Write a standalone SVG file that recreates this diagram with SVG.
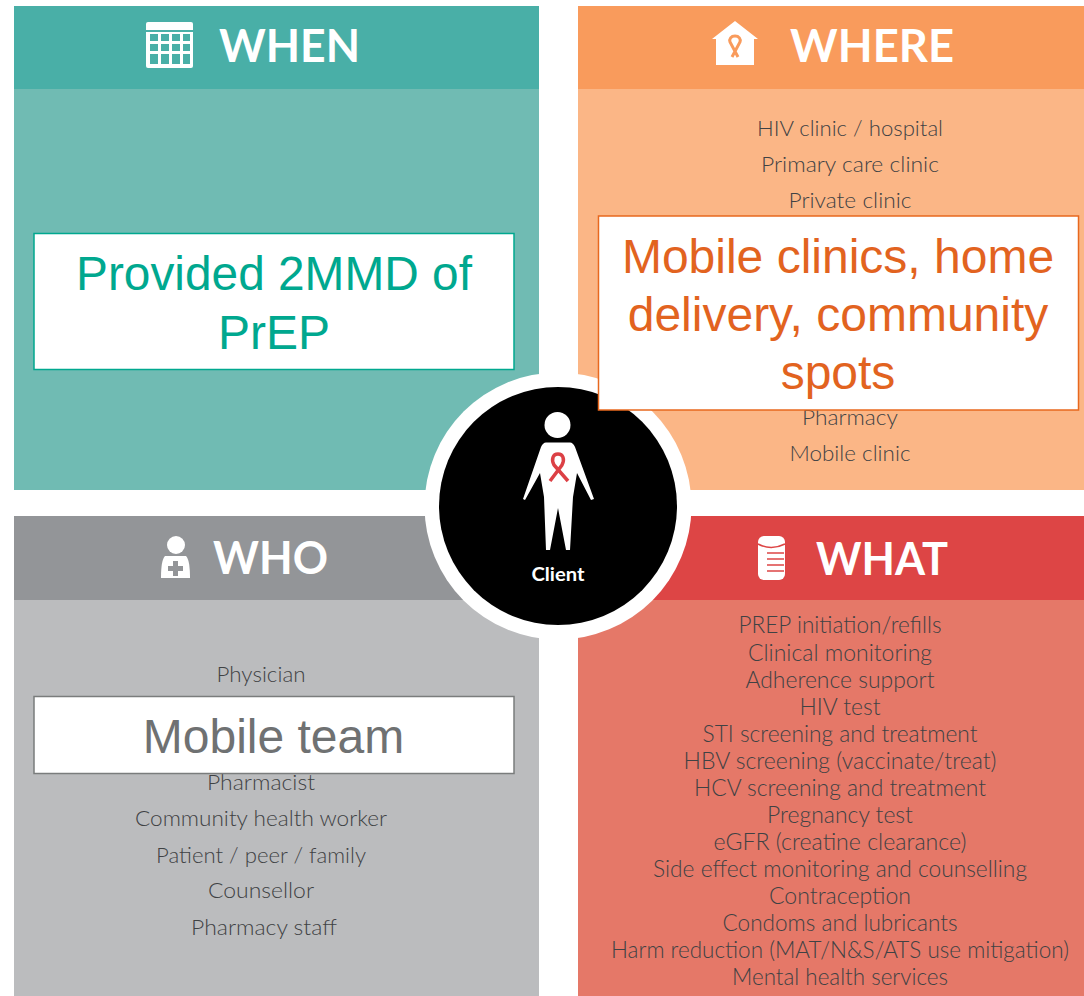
<svg xmlns="http://www.w3.org/2000/svg" width="1084" height="996" viewBox="0 0 1084 996">
<style>
.h{font-family:"Lato","Liberation Sans",sans-serif;font-weight:700;font-size:46px;fill:#fff}
.b{font-family:"Lato","Liberation Sans",sans-serif;font-weight:300;font-size:22px;fill:#3f4244;text-anchor:middle}
.w{font-size:22.5px}
.o{font-family:"Liberation Sans",Arial,sans-serif;font-size:48px;text-anchor:middle}
.box{fill:#fff;stroke-width:1.5}
</style>
<rect width="1084" height="996" fill="#fff"/>
<g id="when">
<rect x="14" y="6" width="525" height="484" fill="#70bbb3"/>
<rect x="14" y="6" width="525" height="83" fill="#49afa7"/>
<g id="when-icon">
<rect x="142" y="22" width="47" height="46" rx="2" fill="#fff" transform="translate(4 0)"/>
<g fill="#49afa7">
<rect x="150" y="34" width="8" height="7"/><rect x="161" y="34" width="8" height="7"/><rect x="172" y="34" width="8" height="7"/><rect x="183" y="34" width="7" height="7"/>
<rect x="150" y="44" width="8" height="7"/><rect x="161" y="44" width="8" height="7"/><rect x="172" y="44" width="8" height="7"/><rect x="183" y="44" width="7" height="7"/>
<rect x="150" y="54" width="8" height="10"/><rect x="161" y="54" width="8" height="10"/><rect x="172" y="54" width="8" height="10"/><rect x="183" y="54" width="7" height="10"/>
<rect x="146" y="30" width="47" height="2"/>
</g></g>
<text class="h" x="219" y="62" textLength="141" lengthAdjust="spacingAndGlyphs">WHEN</text>
<rect class="box" x="34" y="233.500" width="480" height="136" stroke="#00a88f"/>
<text class="o" x="274" y="290" fill="#00a88f" textLength="396" lengthAdjust="spacingAndGlyphs">Provided 2MMD of</text>
<text class="o" x="274" y="349" fill="#00a88f">PrEP</text>
</g>
<g id="where">
<rect x="578" y="6" width="506" height="484" fill="#fbb686"/>
<rect x="578" y="6" width="506" height="83" fill="#f99b5c"/>
<g id="where-icon">
<path d="M735 21L758 39L754 39V65H716V39L712 39Z" fill="#fff"/>
<path d="M735 36c-4 0-6 3-5 6l8 15M735 36c4 0 6 3 5 6l-8 15" fill="none" stroke="#f99b5c" stroke-width="3"/>
</g>
<text class="h" x="790" y="62" textLength="164" lengthAdjust="spacingAndGlyphs">WHERE</text>
<text class="b" x="850" y="136" textLength="186" lengthAdjust="spacingAndGlyphs">HIV clinic / hospital</text>
<text class="b" x="850" y="172" textLength="178" lengthAdjust="spacingAndGlyphs">Primary care clinic</text>
<text class="b" x="850" y="208" textLength="123" lengthAdjust="spacingAndGlyphs">Private clinic</text>
<text class="b" x="850" y="425" textLength="96" lengthAdjust="spacingAndGlyphs">Pharmacy</text>
<text class="b" x="850" y="461" textLength="121" lengthAdjust="spacingAndGlyphs">Mobile clinic</text>
</g>
<g id="who">
<rect x="14" y="516" width="525" height="480" fill="#bbbcbe"/>
<rect x="14" y="516" width="525" height="84" fill="#939598"/>
<g id="who-icon" fill="#fff">
<circle cx="176" cy="545" r="9"/>
<path d="M165 556H186Q190 560 190 578H161Q161 560 165 556Z"/>
<path d="M173 561h5v5h5v5h-5v5h-5v-5h-5v-5h5z" fill="#939598"/>
</g>
<text class="h" x="213" y="574" textLength="115" lengthAdjust="spacingAndGlyphs">WHO</text>
<text class="b" x="261" y="682" textLength="89" lengthAdjust="spacingAndGlyphs">Physician</text>
<text class="b" x="261" y="790" textLength="108" lengthAdjust="spacingAndGlyphs">Pharmacist</text>
<text class="b" x="261" y="826" textLength="252" lengthAdjust="spacingAndGlyphs">Community health worker</text>
<text class="b" x="261" y="863" textLength="210" lengthAdjust="spacingAndGlyphs">Patient / peer / family</text>
<text class="b" x="261" y="898" textLength="106" lengthAdjust="spacingAndGlyphs">Counsellor</text>
<text class="b" x="264" y="935" textLength="146" lengthAdjust="spacingAndGlyphs">Pharmacy staff</text>
<rect class="box" x="34" y="696.500" width="480" height="77" stroke="#7a7c7c"/>
<text class="o" x="273.500" y="753" fill="#6f7172">Mobile team</text>
</g>
<g id="what">
<rect x="578" y="516" width="506" height="480" fill="#e57868"/>
<rect x="578" y="516" width="506" height="84" fill="#dd4545"/>
<g id="what-icon">
<rect x="758" y="536" width="27" height="44" rx="6" fill="#fff"/>
<path d="M758 544Q771 551 785 544M767 553H784M767 559H784M767 565H784M767 571H784" fill="none" stroke="#dd4545" stroke-width="1.500"/>
</g>
<text class="h" x="816" y="575" textLength="132" lengthAdjust="spacingAndGlyphs">WHAT</text>
<text class="b w" x="840" y="633" textLength="203" lengthAdjust="spacingAndGlyphs">PREP initiation/refills</text>
<text class="b w" x="840" y="661" textLength="184" lengthAdjust="spacingAndGlyphs">Clinical monitoring</text>
<text class="b w" x="840" y="688" textLength="189" lengthAdjust="spacingAndGlyphs">Adherence support</text>
<text class="b w" x="840" y="715" textLength="81" lengthAdjust="spacingAndGlyphs">HIV test</text>
<text class="b w" x="840" y="742" textLength="275" lengthAdjust="spacingAndGlyphs">STI screening and treatment</text>
<text class="b w" x="840" y="769" textLength="313" lengthAdjust="spacingAndGlyphs">HBV screening (vaccinate/treat)</text>
<text class="b w" x="840" y="796" textLength="292" lengthAdjust="spacingAndGlyphs">HCV screening and treatment</text>
<text class="b w" x="840" y="823" textLength="146" lengthAdjust="spacingAndGlyphs">Pregnancy test</text>
<text class="b w" x="840" y="850" textLength="253" lengthAdjust="spacingAndGlyphs">eGFR (creatine clearance)</text>
<text class="b w" x="840" y="877" textLength="374" lengthAdjust="spacingAndGlyphs">Side effect monitoring and counselling</text>
<text class="b w" x="840" y="904" textLength="142" lengthAdjust="spacingAndGlyphs">Contraception</text>
<text class="b w" x="840" y="931" textLength="235" lengthAdjust="spacingAndGlyphs">Condoms and lubricants</text>
<text class="b w" x="840" y="958" textLength="458" lengthAdjust="spacingAndGlyphs">Harm reduction (MAT/N&amp;S/ATS use mitigation)</text>
<text class="b w" x="840" y="985" textLength="216" lengthAdjust="spacingAndGlyphs">Mental health services</text>
</g>
<g id="connectors"></g>
<g id="client">
<circle cx="558" cy="506" r="133.500" fill="#fff"/>
<circle cx="558" cy="506" r="119" fill="#000"/>
<circle cx="557.500" cy="425" r="13" fill="#fff"/>
<path d="M546 442.500H570Q573 442.500 575 447L594 499L591 500L577 473L573 497L570 550L566 550L558 508L550 550L546 550L544 497L540 473L525 500L523 499L541 447Q543 442.500 546 442.500Z" fill="#fff"/>
<path d="M550 481L562 465C565 459 563 454 558 454C553 454 551 459 554 465L568 481" fill="none" stroke="#dc4045" stroke-width="3.500"/>
<text x="558" y="581" font-family="Lato,'Liberation Sans',sans-serif" font-weight="700" font-size="19.500" fill="#fff" text-anchor="middle" textLength="53" lengthAdjust="spacingAndGlyphs">Client</text>
</g>
<g id="where-box">
<rect class="box" x="598.500" y="216" width="480" height="194" stroke="#e8681e"/>
<text class="o" x="838" y="273" fill="#e2631f">Mobile clinics, home</text>
<text class="o" x="838" y="331" fill="#e2631f">delivery, community</text>
<text class="o" x="838" y="389" fill="#e2631f">spots</text>
</g>
</svg>
